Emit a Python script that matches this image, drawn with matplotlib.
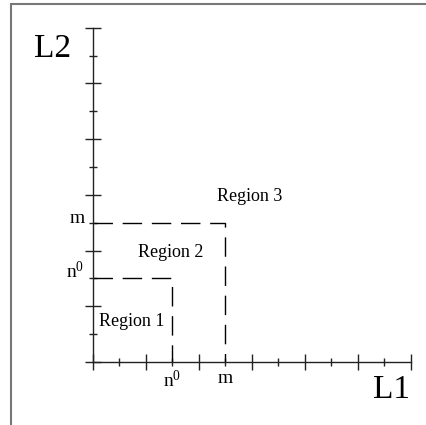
import matplotlib
matplotlib.use('Agg')
import matplotlib.pyplot as plt
from matplotlib.patches import Rectangle

plt.rcParams['font.family'] = ['Liberation Serif', 'DejaVu Serif']
plt.rcParams['mathtext.fontset'] = 'custom'
plt.rcParams['mathtext.rm'] = 'Liberation Serif'

# thresholds on both axes
n0 = 3
m = 5
axis_max = 12
major_ticks = [0, 2, 4, 6, 8, 10, 12]
minor_ticks = [1, 3, 5, 7, 9, 11]
minor_labels = ['', r'$\mathregular{n^0}$', 'm', '', '', '']

# region labels (x, y in axis units)
region_names = ['Region 1', 'Region 2', 'Region 3']
region_x = [0.22, 1.70, 4.68]
region_y = [1.28, 3.78, 5.79]

fig = plt.figure(figsize=(4.26, 4.25), dpi=100)
fig.patches.append(Rectangle((11/426, -0.1), 1.2, (425-4)/425 + 0.1,
                             transform=fig.transFigure, fill=False,
                             edgecolor='#777777', lw=1.5))

ax = fig.add_axes([92.7/426, 63/425, 317.8/426, 334.3/425])
ax.set_xlim(0, axis_max)
ax.set_ylim(0, axis_max)
ax.patch.set_visible(False)
for s in ['top', 'right']:
    ax.spines[s].set_visible(False)
for s in ['left', 'bottom']:
    ax.spines[s].set_linewidth(1.0)
    ax.spines[s].set_color('#222222')

ax.set_xticks(major_ticks, labels=[''] * len(major_ticks))
ax.set_yticks(major_ticks, labels=[''] * len(major_ticks))
ax.set_xticks(minor_ticks, labels=minor_labels, minor=True)
ax.set_yticks(minor_ticks, labels=minor_labels, minor=True)
ax.tick_params(which='major', direction='inout', length=11.5, width=1.0, color='#222222')
ax.tick_params(which='minor', direction='inout', length=5.8, width=1.0, color='#222222',
               labelsize=14)
ax.tick_params(axis='x', which='minor', pad=3)
ax.tick_params(axis='y', which='minor', pad=3)
for t in ax.yaxis.get_minorticklabels():
    t.set_verticalalignment('baseline')

# dashed boundaries of the regions
for v in [n0, m]:
    ax.plot([0, v, v], [v, v, 0], color='black', lw=1.0,
            linestyle=(0, (14, 7)), clip_on=False)

for name, x, y in zip(region_names, region_x, region_y):
    ax.text(x, y, name, fontsize=13, va='baseline', ha='left')

ax.text(-2.23, 10.95, 'L2', fontsize=24, va='baseline', ha='left')
ax.text(10.6, -1.29, 'L1', fontsize=24, va='baseline', ha='left')

plt.savefig('out.png', dpi=100)
